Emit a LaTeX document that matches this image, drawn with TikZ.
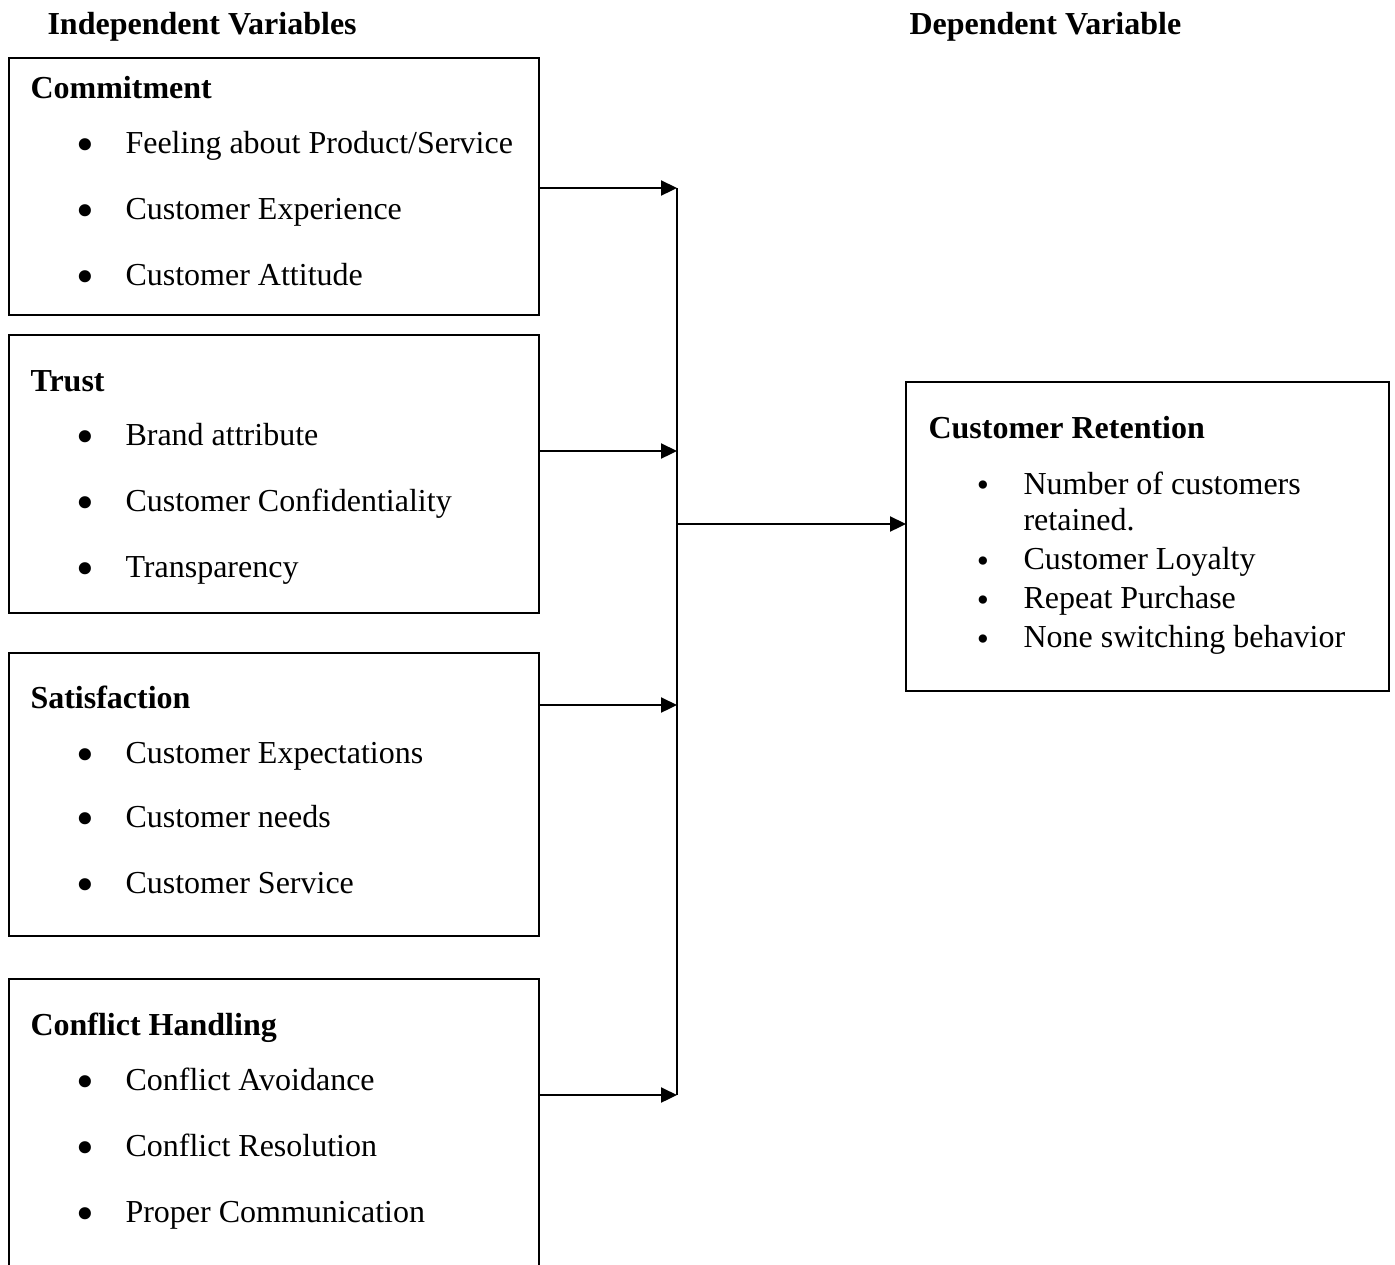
\documentclass[tikz,border=0pt]{standalone}
\usepackage{fontspec}
\setmainfont{Liberation Serif}
\usetikzlibrary{arrows.meta}
\begin{document}
\begin{tikzpicture}[x=0.375pt,y=-0.375pt,
  box/.style={draw, line width=0.85pt, rectangle, inner sep=0pt, outer sep=0pt, anchor=north west},
  txt/.style={anchor=base west, inner sep=0pt, font=\fontsize{12}{14}\selectfont},
  ttl/.style={anchor=base west, inner sep=0pt, font=\fontsize{12}{14}\selectfont\bfseries},
  bul/.style={anchor=north, inner sep=0pt, font=\fontsize{19}{20}\selectfont},
  sbul/.style={anchor=north, inner sep=0pt, font=\fontsize{13}{14}\selectfont},
  conn/.style={line width=0.95pt, -{Triangle[length=6pt,width=5.6pt]}},
  spine/.style={line width=0.95pt}]
\useasboundingbox (0,0) rectangle (1395,1264);
% headers
\node[ttl] (hIV) at (47,34) {Independent Variables};
\node[ttl] (hDV) at (909,34) {Dependent Variable};
% boxes
\node[box, minimum width=530*0.375pt, minimum height=257*0.375pt] (b1) at (9,58) {};
\node[box, minimum width=530*0.375pt, minimum height=278*0.375pt] (b2) at (9,335) {};
\node[box, minimum width=530*0.375pt, minimum height=283*0.375pt] (b3) at (9,653) {};
\node[box, draw=none, minimum width=530*0.375pt, minimum height=300*0.375pt] (b4) at (9,979) {};
\draw[line width=0.85pt] (b4.north west |- 0,1275) -- (b4.north west) -- (b4.north east) -- (b4.north east |- 0,1275);
\node[box, minimum width=483*0.375pt, minimum height=309*0.375pt] (rt) at (906,382) {};
% box 1
\node[ttl] (t1) at (30,98) {Commitment};
\node[bul] (p11) at (85,138.5) {•}; \node[txt] (i11) at (125,153) {Feeling about Product/Service};
\node[bul] (p12) at (85,204.5) {•}; \node[txt] (i12) at (125,219) {Customer Experience};
\node[bul] (p13) at (85,270.5) {•}; \node[txt] (i13) at (125,285) {Customer Attitude};
% box 2
\node[ttl] (t2) at (30,391) {Trust};
\node[bul] (p21) at (85,430.5) {•}; \node[txt] (i21) at (125,445) {Brand attribute};
\node[bul] (p22) at (85,496.5) {•}; \node[txt] (i22) at (125,511) {Customer Confidentiality};
\node[bul] (p23) at (85,562.5) {•}; \node[txt] (i23) at (125,577) {Transparency};
% box 3
\node[ttl] (t3) at (30,708) {Satisfaction};
\node[bul] (p31) at (85,748.5) {•}; \node[txt] (i31) at (125,763) {Customer Expectations};
\node[bul] (p32) at (85,812.5) {•}; \node[txt] (i32) at (125,827) {Customer needs};
\node[bul] (p33) at (85,878.5) {•}; \node[txt] (i33) at (125,893) {Customer Service};
% box 4
\node[ttl] (t4) at (30,1035) {Conflict Handling};
\node[bul] (p41) at (85,1075.5) {•}; \node[txt] (i41) at (125,1090) {Conflict Avoidance};
\node[bul] (p42) at (85,1141.5) {•}; \node[txt] (i42) at (125,1156) {Conflict Resolution};
\node[bul] (p43) at (85,1207.5) {•}; \node[txt] (i43) at (125,1222) {Proper Communication};
% right box
\node[ttl] (tr) at (928,438) {Customer Retention};
\node[sbul] (pr1) at (983,480) {•}; \node[txt] (ir1) at (1023,494) {Number of customers};
\node[txt] (ir1b) at (1023,530) {retained.};
\node[sbul] (pr2) at (983,556) {•}; \node[txt] (ir2) at (1023,569) {Customer Loyalty};
\node[sbul] (pr3) at (983,595) {•}; \node[txt] (ir3) at (1023,608) {Repeat Purchase};
\node[sbul] (pr4) at (983,634) {•}; \node[txt] (ir4) at (1023,647) {None switching behavior};
% connectors
\coordinate (j1) at (677,188);
\coordinate (j2) at (677,451);
\coordinate (j3) at (677,705);
\coordinate (j4) at (677,1095);
\coordinate (hub) at (677,524);
\draw[spine] (j1) -- (j4);
\draw[conn] (b1.east |- j1) -- (j1);
\draw[conn] (b2.east |- j2) -- (j2);
\draw[conn] (b3.east |- j3) -- (j3);
\draw[conn] (b4.east |- j4) -- (j4);
\draw[conn] (hub) -- (rt.west |- hub);
\end{tikzpicture}
\end{document}
